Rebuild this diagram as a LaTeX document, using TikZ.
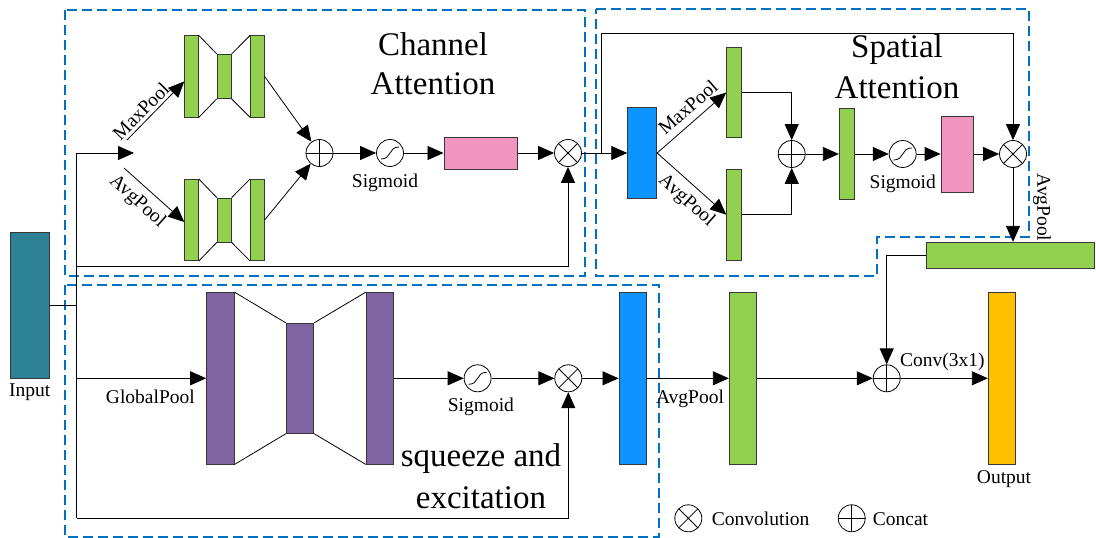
\documentclass[tikz,border=0pt]{standalone}
\usepackage{fontspec}
\setmainfont{Liberation Serif}
\usetikzlibrary{arrows.meta,calc}
\definecolor{cgreen}{RGB}{146,208,80}
\definecolor{cpurple}{RGB}{128,100,162}
\definecolor{cblue}{RGB}{14,148,255}
\definecolor{cpink}{RGB}{241,148,192}
\definecolor{cteal}{RGB}{46,130,152}
\definecolor{corange}{RGB}{255,192,0}
\definecolor{dblue}{RGB}{0,112,192}
\definecolor{barline}{RGB}{55,55,55}
\begin{document}
\begin{tikzpicture}[x=1pt,y=-1pt,
  lbl/.style={font=\fontsize{19.5}{23}\selectfont, inner sep=0pt},
  big/.style={align=center, inner sep=0pt},
  bar/.style={draw=barline, line width=0.9pt, inner sep=0pt},
  conn/.style={line width=0.8pt, draw=black},
  arr/.style={conn, -{Triangle[length=16pt,width=14pt]}},
  dashbox/.style={draw=dblue, line width=2pt, dash pattern=on 10pt off 5pt},
  circbase/.style={circle, draw=black, line width=0.8pt, minimum size=27pt, inner sep=0pt, fill=white},
  mulc/.style={circbase, path picture={\draw[line width=0.8pt]
     (path picture bounding box.north west) -- (path picture bounding box.south east)
     (path picture bounding box.north east) -- (path picture bounding box.south west);}},
  catc/.style={circbase, path picture={\draw[line width=0.8pt]
     (path picture bounding box.north) -- (path picture bounding box.south)
     (path picture bounding box.west) -- (path picture bounding box.east);}},
  sgc/.style={circbase, path picture={\draw[line width=0.8pt]
     ($(path picture bounding box.center)+(-9,6)$) .. controls ($(path picture bounding box.center)+(2,6)$) and ($(path picture bounding box.center)+(-2,-6)$) .. ($(path picture bounding box.center)+(9,-6)$);}}
]
\fill[white] (0,0) rectangle (1096,538);
\useasboundingbox (0,0) rectangle (1096,538);

% ---------- dashed boxes ----------
\draw[dashbox] (65,10) rectangle (585,276);
\draw[dashbox] (596,9) -- (1029,9) -- (1029,237) -- (877,237) -- (877,276) -- (596,276) -- cycle;
\draw[dashbox] (65,285) rectangle (659,537);

% ---------- input and trunk ----------
\node[bar, fill=cteal, minimum width=39pt, minimum height=146pt] (inp) at (29.5,305.5) {};
\node[lbl, anchor=base] (inplbl) at (29.7,396.7) {Input};
\coordinate (tr0) at (76.5,305.5);
\coordinate (trTop) at (76.5,153);
\coordinate (trCA) at (76.5,266.7);
\coordinate (trGP) at (76.5,378.3);
\coordinate (trBot) at (76.5,518.3);
\coordinate (split) at (134,153);
\draw[conn] (inp.east) -- (tr0);
\draw[conn] (trTop) -- (trBot);
\draw[arr] (trTop) -- (split);

% ---------- channel attention ----------
\node[bar, fill=cgreen, minimum width=13.5pt, minimum height=81.3pt] (tL) at (191.5,76.4) {};
\node[bar, fill=cgreen, minimum width=14pt, minimum height=44pt] (tM) at (224.2,76.4) {};
\node[bar, fill=cgreen, minimum width=13.5pt, minimum height=81.3pt] (tR) at (257.4,76.4) {};
\node[bar, fill=cgreen, minimum width=13.5pt, minimum height=81.3pt] (bL) at (191.5,220) {};
\node[bar, fill=cgreen, minimum width=14pt, minimum height=44pt] (bM) at (224.2,220) {};
\node[bar, fill=cgreen, minimum width=13.5pt, minimum height=81.3pt] (bR) at (257.4,220) {};
\draw[conn] (tL.north east) -- (tM.north west) (tL.south east) -- (tM.south west)
            (tM.north east) -- (tR.north west) (tM.south east) -- (tR.south west);
\draw[conn] (bL.north east) -- (bM.north west) (bL.south east) -- (bM.south west)
            (bM.north east) -- (bR.north west) (bM.south east) -- (bR.south west);
\coordinate (mp1) at (127,140);
\coordinate (ap1) at (124,168);
\draw[arr] (mp1) -- node[lbl, pos=0.37, sloped, above=3pt] {MaxPool} ([yshift=-5pt]tL.west);
\draw[arr] (ap1) -- node[lbl, pos=0.4, sloped, below=7pt] {AvgPool} ([yshift=-2pt]bL.west);
\node[catc] (cat1) at (319.5,153) {};
\node[sgc] (sg1) at (390,153) {};
\node[bar, fill=cpink, minimum width=73.4pt, minimum height=32pt] (pk1) at (480.7,153) {};
\node[mulc] (mul1) at (568,153) {};
\draw[arr] (tR.east) -- (cat1);
\draw[arr] (bR.east) -- (cat1);
\draw[arr] (cat1) -- (sg1);
\draw[arr] (sg1) -- (pk1);
\draw[arr] (pk1) -- (mul1);
\draw[arr] (trCA) -| (mul1.south);
\node[lbl, anchor=base] (sgl1) at (385,187.7) {Sigmoid};
\node[big, font=\fontsize{33}{39}\selectfont] (catitle) at (433,64) {Channel\\Attention};

% ---------- spatial attention ----------
\node[bar, fill=cblue, minimum width=29pt, minimum height=91pt] (b1) at (642.2,153) {};
\draw[arr] (mul1.east) -- (b1.west);
\coordinate (tp0) at (601.7,153);
\coordinate (topy) at (0,33.3);
\node[mulc] (mul2) at (1013,154) {};
\draw[arr] (tp0) -- (tp0 |- topy) -| (mul2.north);
\node[bar, fill=cgreen, minimum width=15pt, minimum height=90.4pt] (ug) at (734.2,92.5) {};
\node[bar, fill=cgreen, minimum width=15pt, minimum height=90.7pt] (lg) at (734.2,214.7) {};
\draw[arr] (b1.east) -- node[lbl, pos=0.58, sloped, above=7pt] {MaxPool} (ug.west);
\draw[arr] (b1.east) -- node[lbl, pos=0.58, sloped, below=7pt] {AvgPool} (lg.west);
\node[catc] (cat2) at (791.7,154) {};
\draw[arr] (ug.east) -| (cat2.north);
\draw[arr] (lg.east) -| (cat2.south);
\node[bar, fill=cgreen, minimum width=15pt, minimum height=91pt] (g2) at (846.8,154) {};
\node[sgc] (sg2) at (902.7,154) {};
\node[bar, fill=cpink, minimum width=32.3pt, minimum height=76pt] (pk2) at (957.2,154) {};
\draw[arr] (cat2) -- (g2);
\draw[arr] (g2) -- (sg2);
\draw[arr] (sg2) -- (pk2);
\draw[arr] (pk2) -- (mul2);
\node[lbl, anchor=base] (sgl2) at (902.7,188.3) {Sigmoid};
\node[big, font=\fontsize{33}{40.3}\selectfont] (satitle) at (897,66.7) {Spatial\\Attention};
\node[bar, fill=cgreen, minimum width=167.3pt, minimum height=26pt] (lb) at (1010.4,255.3) {};
\draw[arr] (mul2.south) -- (mul2.south |- lb.north);
\node[lbl, rotate=-90] (avgr) at (1042,207.4) {AvgPool};

% ---------- squeeze and excitation ----------
\node[bar, fill=cpurple, minimum width=27.5pt, minimum height=171.3pt] (pL) at (220.4,378.3) {};
\node[bar, fill=cpurple, minimum width=27.5pt, minimum height=110pt] (pM) at (300,378.3) {};
\node[bar, fill=cpurple, minimum width=27.2pt, minimum height=171.3pt] (pR) at (379.8,378.3) {};
\draw[conn] (pL.north east) -- (pM.north west) (pL.south east) -- (pM.south west)
            (pM.north east) -- (pR.north west) (pM.south east) -- (pR.south west);
\draw[arr] (trGP) -- (pL.west);
\node[lbl, anchor=base] (gpl) at (150.4,403.3) {GlobalPool};
\node[sgc] (sg3) at (477.6,378.3) {};
\node[mulc] (mul3) at (568.3,378.3) {};
\draw[arr] (pR.east) -- (sg3);
\draw[arr] (sg3) -- (mul3);
\draw[arr] (trBot) -| (mul3.south);
\node[lbl, anchor=base] (sgl3) at (480.9,411.7) {Sigmoid};
\node[big, font=\fontsize{33}{41.6}\selectfont] (setitle) at (481,476) {squeeze and\\excitation};

% ---------- fusion and output ----------
\node[bar, fill=cblue, minimum width=27pt, minimum height=171.3pt] (b2) at (632.5,378.3) {};
\node[bar, fill=cgreen, minimum width=27.4pt, minimum height=171.3pt] (g3) at (743,378.3) {};
\node[catc] (cat3) at (886.7,378.3) {};
\node[bar, fill=corange, minimum width=27.4pt, minimum height=171.3pt] (out) at (1002,378.3) {};
\draw[arr] (mul3) -- (b2);
\draw[arr] (b2) -- (g3);
\draw[arr] (g3) -- (cat3);
\draw[arr] (cat3) -- (out);
\draw[arr] (lb.west) -| (cat3.north);
\node[lbl, anchor=base] (avgl) at (690,403.3) {AvgPool};
\node[lbl, anchor=base] (convl) at (942.3,366.7) {Conv(3x1)};
\node[lbl, anchor=base] (outl) at (1004,483.3) {Output};

% ---------- legend ----------
\node[mulc] (lgm) at (688.3,518.3) {};
\node[lbl, anchor=base west] (lgmt) at (711.7,525) {Convolution};
\node[catc] (lgc) at (851.7,518.3) {};
\node[lbl, anchor=base west] (lgct) at (872.7,525) {Concat};
\end{tikzpicture}
\end{document}
